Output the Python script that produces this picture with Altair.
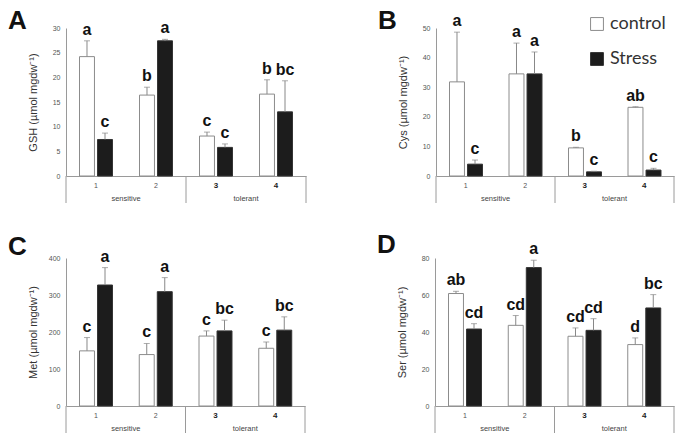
import altair as alt
import pandas as pd

GENOTYPES = ["1", "2", "3", "4"]
GROUP_NAMES = ["sensitive", "tolerant"]
GROUP_ANCHORS = ["1", "3"]
TREATMENTS = ["control", "Stress"]

# Panel A - GSH
gsh_control = [24.2, 16.4, 8.1, 16.6]
gsh_control_err = [3.2, 1.6, 0.8, 2.9]
gsh_stress = [7.4, 27.4, 5.8, 13.0]
gsh_stress_err = [1.3, 0.3, 0.7, 6.3]
gsh_control_letters = ["a", "b", "c", "b"]
gsh_stress_letters = ["c", "a", "c", "bc"]

# Panel B - Cys
cys_control = [31.8, 34.5, 9.5, 23.2]
cys_control_err = [16.8, 10.4, 0.2, 0.2]
cys_stress = [4.0, 34.5, 1.4, 2.0]
cys_stress_err = [1.4, 7.4, 0.2, 0.6]
cys_control_letters = ["a", "a", "b", "ab"]
cys_stress_letters = ["c", "a", "c", "c"]

# Panel C - Met
met_control = [149, 139, 189, 156]
met_control_err = [36, 30, 14, 17]
met_stress = [327, 309, 203, 205]
met_stress_err = [47, 38, 29, 36]
met_control_letters = ["c", "c", "c", "c"]
met_stress_letters = ["a", "a", "bc", "bc"]

# Panel D - Ser
ser_control = [60.8, 43.6, 37.7, 33.2]
ser_control_err = [1.2, 5.3, 4.5, 3.6]
ser_stress = [41.6, 74.8, 40.9, 53.0]
ser_stress_err = [2.9, 4.0, 6.3, 7.2]
ser_control_letters = ["ab", "cd", "cd", "d"]
ser_stress_letters = ["cd", "a", "cd", "bc"]

FONT = "Liberation Sans"
H = 148


def make_df(ctrl, ctrl_err, ctrl_lab, st, st_err, st_lab):
    rows = []
    for i, g in enumerate(GENOTYPES):
        rows.append(dict(geno=g, treat="control", value=ctrl[i],
                         top=ctrl[i] + ctrl_err[i], label=ctrl_lab[i]))
        rows.append(dict(geno=g, treat="Stress", value=st[i],
                         top=st[i] + st_err[i], label=st_lab[i]))
    return pd.DataFrame(rows)


def panel(letter, letter_y, ytitle, ymax, ystep, width, df, show_legend=False):
    x_axis = alt.Axis(
        title=None, labelAngle=0, ticks=False, domainColor="#9a9a9a",
        labelFont=FONT, labelPadding=5,
        labelFontSize={"condition": {"test": "datum.value >= '3'", "value": 8}, "value": 7},
        labelFontWeight={"condition": {"test": "datum.value >= '3'", "value": "bold"}, "value": "normal"},
        labelColor={"condition": {"test": "datum.value >= '3'", "value": "#222222"}, "value": "#555555"},
    )
    xscale = alt.Scale(domain=GENOTYPES, paddingInner=0, paddingOuter=0)
    x = alt.X("geno:N", scale=xscale, axis=x_axis)
    xoff = alt.XOffset("treat:N", scale=alt.Scale(domain=TREATMENTS, paddingInner=0.17, paddingOuter=0.75))
    yscale = alt.Scale(domain=[0, ymax], nice=False)
    y_axis = alt.Axis(
        title=ytitle, values=list(range(0, ymax + 1, ystep)), grid=False, ticks=False,
        domainColor="#9a9a9a", labelFont=FONT, labelFontSize=7, labelColor="#555555",
        labelPadding=6, titleFont=FONT, titleFontSize=11, titleFontWeight="normal",
        titleColor="#333333", titleX=-33, titleY=H / 2, titleBaseline="middle",
        titleAngle=270,
    )
    if show_legend:
        leg = alt.Legend(
            title=None, orient="none", legendX=152, legendY=-13, symbolType="square",
            symbolSize=165, symbolStrokeWidth=1, labelFont="Lato", labelFontSize=18,
            labelColor="#333333", rowPadding=17, labelOffset=4, padding=0,
        )
    else:
        leg = None
    fill = alt.Fill("treat:N", scale=alt.Scale(domain=TREATMENTS, range=["#ffffff", "#1c1c1c"]), legend=leg)
    stroke = alt.Stroke("treat:N", scale=alt.Scale(domain=TREATMENTS, range=["#8c8c8c", "#333333"]), legend=leg)

    base = alt.Chart(df)
    bars = base.mark_bar(strokeWidth=1).encode(
        x=x, xOffset=xoff, y=alt.Y("value:Q", scale=yscale, axis=y_axis), fill=fill, stroke=stroke)
    err = base.mark_rule(color="#888888", strokeWidth=1).encode(
        x=x, xOffset=xoff, y=alt.Y("value:Q", scale=yscale, axis=y_axis), y2="top:Q")
    caps = base.mark_tick(color="#888888", thickness=1, size=6).encode(
        x=x, xOffset=xoff, y=alt.Y("top:Q", scale=yscale, axis=y_axis))
    labels = base.mark_text(font=FONT, fontSize=16, fontWeight="bold", baseline="bottom",
                            dy=-3, color="#111111").encode(
        x=x, xOffset=xoff, y=alt.Y("top:Q", scale=yscale, axis=y_axis), text="label:N")

    gdf = pd.DataFrame({"geno": GROUP_ANCHORS, "name": GROUP_NAMES})
    glabels = alt.Chart(gdf).mark_text(font=FONT, fontSize=7.5, color="#444444", baseline="middle").encode(
        x=alt.X("geno:N", scale=xscale, axis=x_axis, bandPosition=1),
        y=alt.value(H + 23), text="name:N")
    sep1 = alt.Chart(pd.DataFrame({"geno": ["1", "3"]})).mark_rule(color="#9a9a9a").encode(
        x=alt.X("geno:N", scale=xscale, axis=x_axis, bandPosition=0),
        y=alt.value(H), y2=alt.value(H + 27))
    sep2 = alt.Chart(pd.DataFrame({"geno": ["4"]})).mark_rule(color="#9a9a9a").encode(
        x=alt.X("geno:N", scale=xscale, axis=x_axis, bandPosition=1),
        y=alt.value(H), y2=alt.value(H + 27))
    ptitle = alt.Chart(pd.DataFrame({"t": [letter]})).mark_text(
        font=FONT, fontSize=26, fontWeight="bold", align="left", baseline="top",
        color="#111111").encode(x=alt.value(-58), y=alt.value(letter_y), text="t:N")

    return alt.layer(bars, err, caps, labels, sep1, sep2, glabels, ptitle).properties(width=width, height=H)


A = panel("A", -20, "GSH (µmol  mgdw⁻¹)", 30, 5, 240,
          make_df(gsh_control, gsh_control_err, gsh_control_letters,
                  gsh_stress, gsh_stress_err, gsh_stress_letters))
B = panel("B", -20, "Cys (µmol  mgdw⁻¹)", 50, 10, 238,
          make_df(cys_control, cys_control_err, cys_control_letters,
                  cys_stress, cys_stress_err, cys_stress_letters), show_legend=True)
C = panel("C", -24, "Met (µmol  mgdw⁻¹)", 400, 100, 239,
          make_df(met_control, met_control_err, met_control_letters,
                  met_stress, met_stress_err, met_stress_letters))
D = panel("D", -26, "Ser (µmol  mgdw⁻¹)", 80, 20, 239,
          make_df(ser_control, ser_control_err, ser_control_letters,
                  ser_stress, ser_stress_err, ser_stress_letters))

row1 = alt.hconcat(A, B, spacing=71).resolve_scale(fill="independent", stroke="independent")
row2 = alt.hconcat(C, D, spacing=71).resolve_scale(fill="independent", stroke="independent")
chart = alt.vconcat(row1, row2, spacing=28).resolve_scale(
    fill="independent", stroke="independent").properties(padding=0).configure_view(strokeWidth=0)

chart.save("out.html", embed_options={"renderer": "svg", "actions": False})
